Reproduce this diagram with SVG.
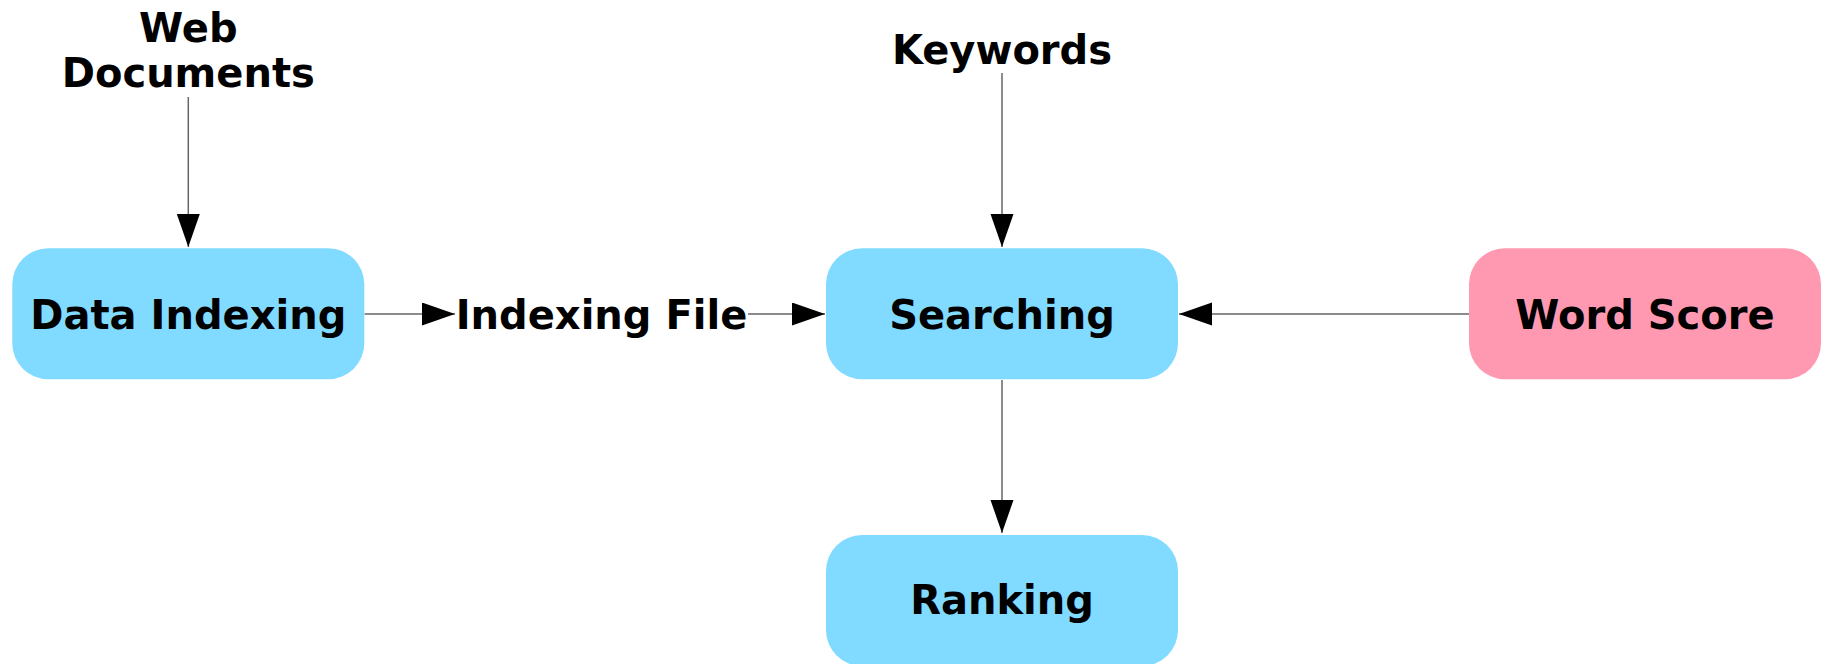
<svg xmlns="http://www.w3.org/2000/svg" width="1826" height="664" viewBox="0 0 1826 664">
<style>
.box{stroke:none}
.blue{fill:#81daff}
.pink{fill:#ff99b1}
.lbl{font-family:"DejaVu Sans",sans-serif;font-weight:bold;font-size:40px;fill:#000;text-anchor:middle}
.edge{stroke:#666;stroke-width:1.5;fill:none}
</style>
<defs>
<marker id="arr" markerUnits="userSpaceOnUse" markerWidth="34" markerHeight="24" refX="33" refY="11.5" orient="auto" viewBox="0 0 34 24">
<path d="M0,0 L33,11.5 L0,23 Z" fill="#000"/>
</marker>
</defs>
<rect width="1826" height="664" fill="#fff"/>
<g id="connectors">
<path class="edge" d="M188.3,97 V247" marker-end="url(#arr)"/>
<path class="edge" d="M1002,73 V247" marker-end="url(#arr)"/>
<path class="edge" d="M364.5,314 H455" marker-end="url(#arr)"/>
<path class="edge" d="M748,314 H825" marker-end="url(#arr)"/>
<path class="edge" d="M1469,314 H1179" marker-end="url(#arr)"/>
<path class="edge" d="M1002,380 V533" marker-end="url(#arr)"/>
</g>
<g id="web-documents">
<text class="lbl" x="188.3" y="41.5">Web</text>
<text class="lbl" x="188.3" y="87">Documents</text>
</g>
<g id="keywords">
<text class="lbl" x="1002" y="64">Keywords</text>
</g>
<g id="data-indexing">
<rect class="box blue" x="12.3" y="248.3" width="352" height="131" rx="36" ry="36"/>
<text class="lbl" x="188.3" y="329">Data Indexing</text>
</g>
<g id="indexing-file">
<text class="lbl" x="601.5" y="329">Indexing File</text>
</g>
<g id="searching">
<rect class="box blue" x="826" y="248.3" width="352" height="131" rx="36" ry="36"/>
<text class="lbl" x="1002" y="329">Searching</text>
</g>
<g id="word-score">
<rect class="box pink" x="1469" y="248.3" width="352" height="131" rx="36" ry="36"/>
<text class="lbl" x="1645" y="329">Word Score</text>
</g>
<g id="ranking">
<rect class="box blue" x="826" y="535" width="352" height="131" rx="36" ry="36"/>
<text class="lbl" x="1002" y="614">Ranking</text>
</g>
</svg>
